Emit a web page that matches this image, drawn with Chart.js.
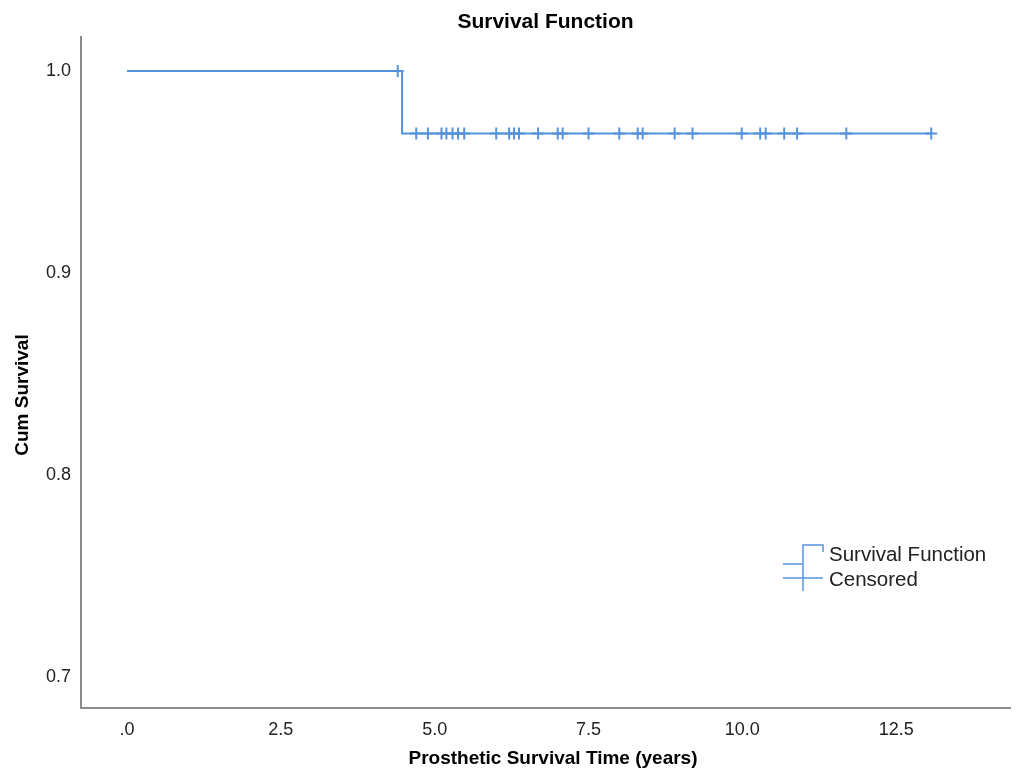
<!DOCTYPE html>
<html>
<head>
<meta charset="utf-8">
<title>Survival Function</title>
<script src="https://cdn.jsdelivr.net/npm/chart.js@4"></script>
<style>
  html, body { margin: 0; padding: 0; background: #fff; }
  #wrap { width: 1019px; height: 772px; }
</style>
</head>
<body>
<div id="wrap"><canvas id="chartCanvas"></canvas></div>
<script>
// Kaplan-Meier step values (time in years, cumulative survival)
const stepTimes = [0, 4.47, 13.07];
const stepSurvival = [1.0, 0.969, 0.969];

// censored observations (years)
const censoredTimes = [4.40, 4.70, 4.89, 5.11, 5.19, 5.29, 5.38, 5.48, 6.00, 6.21, 6.29, 6.37,
  6.68, 7.00, 7.08, 7.50, 8.00, 8.30, 8.38, 8.90, 9.19, 9.99, 10.29, 10.38, 10.68, 10.89, 11.69, 13.07];

const xTickValues = [0, 2.5, 5, 7.5, 10, 12.5];
const xTickLabels = [".0", "2.5", "5.0", "7.5", "10.0", "12.5"];
const yTickValues = [0.7, 0.8, 0.9, 1.0];
const yTickLabels = ["0.7", "0.8", "0.9", "1.0"];
const legendLabels = ["Survival Function", "Censored"];

const blue = "#5592dc";
const fontFamily = '"Liberation Sans", Arial, sans-serif';

// survival value at a given time (read from the step arrays)
function survivalAt(t) {
  let s = stepSurvival[0];
  stepTimes.forEach((st, i) => { if (st <= t) s = stepSurvival[i]; });
  return s;
}

const stepPoints = stepTimes.map((t, i) => ({ x: t, y: stepSurvival[i] }));
const censoredPoints = censoredTimes.map(t => ({ x: t, y: survivalAt(t) }));

// axis titles + legend drawn on top
const overlay = {
  id: "overlay",
  afterDraw(chart) {
    const ctx = chart.ctx;
    ctx.save();
    ctx.fillStyle = "#000";
    ctx.font = "bold 19px " + fontFamily;
    ctx.textAlign = "center";
    ctx.textBaseline = "middle";
    ctx.fillText("Prosthetic Survival Time (years)", 553, 759);
    ctx.save();
    ctx.translate(23, 395);
    ctx.rotate(-Math.PI / 2);
    ctx.fillText("Cum Survival", 0, 0);
    ctx.restore();

    // legend
    ctx.strokeStyle = blue;
    ctx.lineWidth = 1.5;
    ctx.beginPath();
    ctx.moveTo(783, 564); ctx.lineTo(803, 564); ctx.lineTo(803, 545);
    ctx.lineTo(823, 545); ctx.lineTo(823, 552);
    ctx.stroke();
    ctx.beginPath();
    ctx.moveTo(783, 578); ctx.lineTo(823, 578);
    ctx.moveTo(803, 565); ctx.lineTo(803, 591);
    ctx.stroke();

    ctx.fillStyle = "#222";
    ctx.font = "20.5px " + fontFamily;
    ctx.textAlign = "left";
    ctx.fillText(legendLabels[0], 829, 555);
    ctx.fillText(legendLabels[1], 829, 580);
    ctx.restore();
  }
};

const ctx = document.getElementById("chartCanvas").getContext("2d");
new Chart(ctx, {
  type: "scatter",
  data: {
    datasets: [
      {
        label: legendLabels[0],
        type: "line",
        data: stepPoints,
        stepped: "before",
        borderColor: blue,
        borderWidth: 2,
        pointRadius: 0,
        fill: false
      },
      {
        label: legendLabels[1],
        data: censoredPoints,
        pointStyle: "cross",
        pointRadius: 6,
        borderColor: blue,
        borderWidth: 2,
        backgroundColor: blue
      }
    ]
  },
  options: {
    responsive: true,
    maintainAspectRatio: false,
    animation: false,
    layout: { padding: { right: 9 } },
    plugins: {
      legend: { display: false },
      tooltip: { enabled: false },
      title: {
        display: true,
        text: "Survival Function",
        fullSize: false,
        color: "#000",
        font: { family: fontFamily, size: 21, weight: "bold", lineHeight: 1.2 },
        padding: { top: 10, bottom: 1.8 }
      }
    },
    scales: {
      x: {
        type: "linear",
        min: -0.748,
        max: 14.35,
        grid: { display: false, drawTicks: false },
        border: { display: true, color: "#8c8c8c", width: 2 },
        afterBuildTicks: s => { s.ticks = xTickValues.map(v => ({ value: v })); },
        afterFit: s => { s.height = 64; },
        ticks: {
          padding: 11,
          color: "#222",
          font: { family: fontFamily, size: 18 },
          callback: (v) => xTickLabels[xTickValues.indexOf(v)]
        }
      },
      y: {
        min: 0.6847,
        max: 1.0168,
        grid: { display: false, drawTicks: false },
        border: { display: true, color: "#8c8c8c", width: 2 },
        afterBuildTicks: s => { s.ticks = yTickValues.map(v => ({ value: v })); },
        afterFit: s => { s.width = 81; },
        ticks: {
          padding: 10,
          color: "#222",
          font: { family: fontFamily, size: 18 },
          callback: (v) => yTickLabels[yTickValues.indexOf(v)]
        }
      }
    }
  },
  plugins: [overlay]
});
</script>
</body>
</html>
